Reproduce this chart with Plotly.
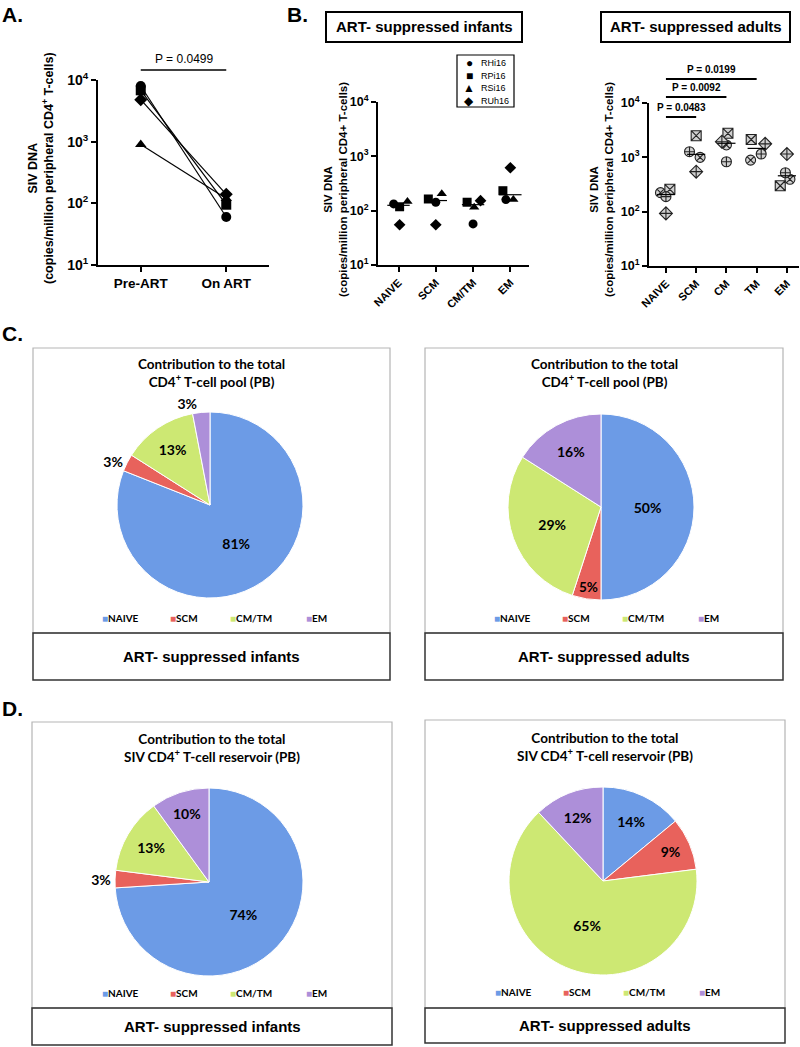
import plotly.graph_objects as go
import numpy as np

W, H = 800, 1047

# ---------------- data ----------------
# Panel A: SIV DNA pre-ART vs on ART (infants)
a_timepoints = ["Pre-ART", "On ART"]
a_animals = ["RHi16", "RPi16", "RSi16", "RUh16"]
a_pre = [8000, 6800, 900, 4800]
a_on = [60, 95, 120, 140]

# Panel B: ART-suppressed infants, per memory subset
inf_cats = ["NAIVE", "SCM", "CM/TM", "EM"]
inf_RHi16 = [133, 143, 57, 160]
inf_RPi16 = [118, 164, 143, 233]
inf_RSi16 = [147, 204, 115, 160]
inf_RUh16 = [55, 55, 153, 617]

# Panel B: ART-suppressed adults
ad_cats = ["NAIVE", "SCM", "CM", "TM", "EM"]
ad_a1 = [224, 1000, 1690, 890, 395]    # circle-x
ad_a2 = [258, 2500, 2770, 2130, 300]   # square-x
ad_a3 = [189, 1270, 830, 1150, 520]    # circle-cross
ad_a4 = [93, 545, 1940, 1770, 1150]    # diamond-cross

adult_pvals = ["P = 0.0483", "P = 0.0092", "P = 0.0199"]
adult_pval_targets = [1, 2, 3]
a_pval = "P = 0.0499"

# Panels C/D: pie charts (%)
pie_cats = ["NAIVE", "SCM", "CM/TM", "EM"]
pool_infants = [81, 3, 13, 3]
pool_adults = [50, 5, 29, 16]
res_infants = [74, 3, 13, 10]
res_adults = [14, 9, 65, 12]

# ---------------- styles ----------------
ARIAL = "Liberation Sans, Arial, sans-serif"
CAL = "Lato, Calibri, sans-serif"
pie_colors = ["#6c9be6", "#e8625c", "#cde873", "#ad8fd9"]

inf_symbols = {"RHi16": "circle", "RPi16": "square", "RSi16": "triangle-up", "RUh16": "diamond"}
inf_jit = {"RHi16": [-0.13, 0.0, 0.0, -0.12],
           "RPi16": [0.03, -0.2, -0.16, -0.2],
           "RSi16": [0.24, 0.16, 0.03, 0.08],
           "RUh16": [0.03, 0.0, 0.2, 0.0]}
ad_symbols = ["circle-x", "square-x", "circle-cross", "diamond-cross"]
ad_jit = [[-0.18, 0.13, 0.0, -0.2, 0.1],
          [0.13, 0.0, 0.05, -0.18, -0.22],
          [0.0, -0.22, 0.0, 0.15, -0.05],
          [0.0, 0.0, -0.15, 0.28, 0.0]]


def px(x):
    return x / W


def py(y):
    return 1 - y / H


fig = go.Figure()

# ---------------- Panel A ----------------
a_sym = [inf_symbols[a] for a in a_animals]
for i, name in enumerate(a_animals):
    fig.add_trace(go.Scatter(
        x=[0, 1], y=[a_pre[i], a_on[i]], mode="lines+markers",
        line=dict(color="black", width=1.2),
        marker=dict(symbol=a_sym[i], size=10, color="black"),
        xaxis="x", yaxis="y", showlegend=False, cliponaxis=False, name=name))

# ---------------- Panel B infants ----------------
inf_series = {"RHi16": inf_RHi16, "RPi16": inf_RPi16, "RSi16": inf_RSi16, "RUh16": inf_RUh16}
for name, vals in inf_series.items():
    xs = [i + j for i, j in zip(range(len(inf_cats)), inf_jit[name])]
    fig.add_trace(go.Scatter(
        x=xs, y=vals, mode="markers",
        marker=dict(symbol=inf_symbols[name], size=9, color="black"),
        xaxis="x2", yaxis="y2", showlegend=False, cliponaxis=False, name=name))
inf_med = np.median(np.array(list(inf_series.values())), axis=0)
for i, m in enumerate(inf_med):
    fig.add_trace(go.Scatter(x=[i - 0.3, i + 0.3], y=[m, m], mode="lines",
                             line=dict(color="black", width=1.2),
                             xaxis="x2", yaxis="y2", showlegend=False, hoverinfo="skip"))

# ---------------- Panel B adults ----------------
ad_series = [ad_a1, ad_a2, ad_a3, ad_a4]
for k, vals in enumerate(ad_series):
    xs = [i + j for i, j in zip(range(len(ad_cats)), ad_jit[k])]
    fig.add_trace(go.Scatter(
        x=xs, y=vals, mode="markers",
        marker=dict(symbol=ad_symbols[k], size=10, color="#d0d0d0",
                    line=dict(color="#222", width=1.1)),
        xaxis="x3", yaxis="y3", showlegend=False, cliponaxis=False))
ad_med = np.median(np.array(ad_series), axis=0)
for i, m in enumerate(ad_med):
    fig.add_trace(go.Scatter(x=[i - 0.3, i + 0.3], y=[m, m], mode="lines",
                             line=dict(color="black", width=1.2),
                             xaxis="x3", yaxis="y3", showlegend=False, hoverinfo="skip"))

# ---------------- Pies ----------------
pie_specs = [
    (pool_infants, 210, 505, 93),
    (pool_adults, 601, 507, 93),
    (res_infants, 209, 882, 94),
    (res_adults, 603, 881, 94),
]
for vals, cx, cy, r in pie_specs:
    fig.add_trace(go.Pie(
        labels=pie_cats, values=vals, sort=False, direction="clockwise", rotation=0,
        marker=dict(colors=pie_colors, line=dict(color="white", width=1)),
        text=[f"{v}%" for v in vals], textinfo="text",
        textposition=["inside" if v >= 5 else "outside" for v in vals],
        insidetextorientation="horizontal", automargin=False,
        textfont=dict(family=CAL, size=14, color="black", weight="bold"),
        domain=dict(x=[px(cx - r), px(cx + r)], y=[py(cy + r), py(cy - r)]),
        showlegend=False, hoverinfo="label+percent"))

# ---------------- axes ----------------
dec_text = ["10<sup>1</sup>", "10<sup>2</sup>", "10<sup>3</sup>", "10<sup>4</sup>"]


def yaxis(dom, anchor, fs):
    return dict(domain=dom, anchor=anchor, type="log", range=[1, 4], automargin=False,
                tickvals=[10, 100, 1000, 10000], ticktext=dec_text,
                ticks="outside", ticklen=5, tickwidth=1.5, tickcolor="black",
                showline=True, linewidth=2, linecolor="black",
                showgrid=False, zeroline=False,
                tickfont=dict(family=ARIAL, size=fs, color="black", weight="bold"))


def xaxis(dom, anchor, rng, labels, fs, angle):
    return dict(domain=dom, anchor=anchor, range=rng, automargin=False,
                tickvals=list(range(len(labels))), ticktext=labels, tickangle=angle,
                ticks="outside", ticklen=5, tickwidth=1.5, tickcolor="black",
                showline=True, linewidth=2, linecolor="black",
                showgrid=False, zeroline=False,
                tickfont=dict(family=ARIAL, size=fs, color="black", weight="bold"))


layout = dict(
    width=W, height=H, margin=dict(l=0, r=0, t=0, b=0, pad=0, autoexpand=False),
    paper_bgcolor="white", plot_bgcolor="white", showlegend=False,
    xaxis=xaxis([px(98), px(269)], "y", [-0.5, 1.5], a_timepoints, 13.5, 0),
    yaxis=yaxis([py(265), py(80)], "x", 14),
    xaxis2=xaxis([px(378), px(529)], "y2", [-0.55, 3.5], inf_cats, 11, -45),
    yaxis2=yaxis([py(265), py(102)], "x2", 12.5),
    xaxis3=xaxis([px(649), px(799)], "y3", [-0.56, 4.4], ad_cats, 11, -45),
    yaxis3=yaxis([py(266), py(103)], "x3", 12.5),
)
fig.update_layout(**layout)

ann = []
shapes = []


def text(x, y, t, size, font=ARIAL, anchor="center", angle=0, color="black"):
    ann.append(dict(x=px(x), y=py(y), xref="paper", yref="paper", text=t, showarrow=False,
                    xanchor=anchor, yanchor="middle", textangle=angle,
                    font=dict(family=font, size=size, color=color)))


# panel letters
text(0, 14, "<b>A.</b>", 21, anchor="left")
text(285, 14, "<b>B.</b>", 21, anchor="left")
text(0, 334, "<b>C.</b>", 21, anchor="left")
text(0, 708, "<b>D.</b>", 21, anchor="left")

# y titles
ytitle = "<b>SIV DNA</b><br><b>(copies/million peripheral CD4<sup>+</sup> T-cells)</b>"
text(41, 168, ytitle, 12.5, angle=-90)
text(335, 190, "<b>SIV DNA</b><br><b>(copies/million peripheral CD4+ T-cells)</b>", 11.5, angle=-90)
text(601, 190, "<b>SIV DNA</b><br><b>(copies/million peripheral CD4+ T-cells)</b>", 11.5, angle=-90)

# panel A p-value
shapes.append(dict(type="line", xref="x", yref="paper", x0=0, x1=1, y0=py(70), y1=py(70),
                   line=dict(color="black", width=1.5)))
ann.append(dict(x=0.5, y=py(68), xref="x", yref="paper", yanchor="bottom", text=a_pval,
                showarrow=False, font=dict(family=ARIAL, size=12, color="black")))

# adults p-values
for t, tgt, yl in zip(adult_pvals, adult_pval_targets, [117, 97, 79]):
    shapes.append(dict(type="line", xref="x3", yref="paper", x0=0, x1=tgt, y0=py(yl), y1=py(yl),
                       line=dict(color="black", width=2)))
    ann.append(dict(x=tgt / 2, y=py(yl - 2), xref="x3", yref="paper", yanchor="bottom",
                    text=f"<b>{t}</b>",
                    showarrow=False, font=dict(family=ARIAL, size=10, color="black")))

# B title boxes
for x0, x1, t in [(326, 522, "ART- suppressed infants"), (601, 790, "ART- suppressed adults")]:
    shapes.append(dict(type="rect", xref="paper", yref="paper", x0=px(x0), x1=px(x1),
                       y0=py(42), y1=py(12), line=dict(color="black", width=2)))
    text((x0 + x1) / 2, 27, f"<b>{t}</b>", 15)

# infants legend box
shapes.append(dict(type="rect", xref="paper", yref="paper", x0=px(457), x1=px(514),
                   y0=py(107), y1=py(55), line=dict(color="black", width=1.2)))
leg_glyph = {"RHi16": "●", "RPi16": "■", "RSi16": "▲", "RUh16": "◆"}
for k, name in enumerate(a_animals):
    yy = 63 + k * 12.5
    text(469, yy, leg_glyph[name], 12)
    text(479, yy, name, 9, anchor="left")

# pie frames, titles, legends, labels
pie_frames = [
    (33, 390, 348, 633, 680, "Contribution to the total<br>CD4<sup>+</sup> T-cell pool (PB)", 373, 618,
     "ART- suppressed infants"),
    (425, 783, 348, 633, 680, "Contribution to the total<br>CD4<sup>+</sup> T-cell pool (PB)", 373, 618,
     "ART- suppressed adults"),
    (32, 392, 722, 1008, 1045, "Contribution to the total<br>SIV CD4<sup>+</sup> T-cell reservoir (PB)", 748,
     993, "ART- suppressed infants"),
    (425, 785, 720, 1008, 1043, "Contribution to the total<br>SIV CD4<sup>+</sup> T-cell reservoir (PB)", 747,
     992, "ART- suppressed adults"),
]
leg_off = [-112, -44, 16, 92]
for x0, x1, y0, y1, y2, title, ty, ly, lab in pie_frames:
    cx = (x0 + x1) / 2
    shapes.append(dict(type="rect", xref="paper", yref="paper", x0=px(x0), x1=px(x1),
                       y0=py(y1), y1=py(y0), line=dict(color="#b5b5b5", width=1.2)))
    shapes.append(dict(type="rect", xref="paper", yref="paper", x0=px(x0), x1=px(x1),
                       y0=py(y2), y1=py(y1), line=dict(color="#333333", width=1.5)))
    text(cx, ty, f"<b>{title}</b>", 13.5, font=CAL)
    for off, cat, col in zip(leg_off, pie_cats, pie_colors):
        text(cx + off, ly, f"<span style='color:{col}'>■</span><b>{cat}</b>", 10, font=CAL,
             anchor="left")
    text(cx, (y1 + y2) / 2, f"<b>{lab}</b>", 15)

fig.update_layout(annotations=ann, shapes=shapes)
fig.write_html("out.html", config={"displayModeBar": False},
               post_script="document.body.style.margin='0';document.body.style.overflow='hidden';")
